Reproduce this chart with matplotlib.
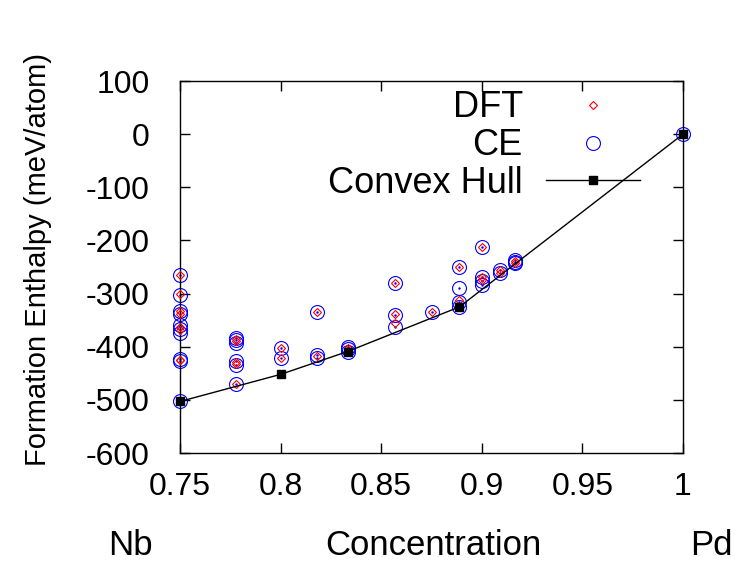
import matplotlib
matplotlib.use("Agg")
import matplotlib.pyplot as plt

plt.rcParams['font.family'] = ['Liberation Sans', 'DejaVu Sans']
plt.rcParams['axes.unicode_minus'] = False

# DFT formation enthalpies (meV/atom) vs Pd concentration
dft_x = [0.75, 0.75, 0.75, 0.75, 0.75, 0.75, 0.75, 0.75, 0.75,
         0.7778, 0.7778, 0.7778, 0.7778, 0.7778,
         0.8, 0.8, 0.8182, 0.8182, 0.8333, 0.8333,
         0.8571, 0.8571, 0.8571, 0.875,
         0.8889, 0.8889, 0.8889,
         0.9, 0.9, 0.9, 0.9091, 0.9091, 0.9167, 0.9167, 1.0]
dft_y = [-265, -301, -333, -338, -362, -368, -425, -425, -503,
         -385, -390, -428, -433, -470,
         -403, -421, -334, -418, -402, -407,
         -280, -339, -355, -334,
         -250, -313, -325,
         -213, -268, -275, -256, -261, -238, -242, 0]

# cluster expansion fits
ce_x = [0.75, 0.75, 0.75, 0.75, 0.75, 0.75, 0.75, 0.75, 0.75, 0.75,
        0.7778, 0.7778, 0.7778, 0.7778, 0.7778, 0.7778,
        0.8, 0.8, 0.8182, 0.8182, 0.8182,
        0.8333, 0.8333, 0.8333,
        0.8571, 0.8571, 0.8571, 0.875,
        0.8889, 0.8889, 0.8889, 0.8889,
        0.9, 0.9, 0.9, 0.9, 0.9091, 0.9091, 0.9167, 0.9167, 0.9167, 1.0]
ce_y = [-265, -302, -332, -339, -360, -367, -375, -424, -426, -503,
        -383, -388, -393, -427, -435, -470,
        -403, -422, -334, -416, -422,
        -400, -404, -409,
        -280, -341, -362, -334,
        -250, -290, -316, -325,
        -213, -268, -276, -284, -256, -262, -237, -240, -243, 0]

# convex hull
hull_x = [0.75, 0.8, 0.8333, 0.8889, 1.0]
hull_y = [-503, -452, -409, -325, 0]

x_ticks = [0.75, 0.8, 0.85, 0.9, 0.95, 1.0]
x_labels = ["0.75", "0.8", "0.85", "0.9", "0.95", "1"]
y_ticks = [-600, -500, -400, -300, -200, -100, 0, 100]

fig = plt.figure(figsize=(7.39, 5.65), dpi=100)
ax = fig.add_axes([0.2436, 0.1982, 0.6806, 0.6584])

ax.plot(dft_x, dft_y, linestyle="none", marker="D", markersize=4.5,
        markerfacecolor="none", markeredgecolor="red", markeredgewidth=0.8,
        label="DFT", zorder=3, clip_on=False)
ax.plot(ce_x, ce_y, linestyle="none", marker="o", markersize=10,
        markerfacecolor="none", markeredgecolor="blue", markeredgewidth=0.8,
        label="CE", zorder=2, clip_on=False)
ax.plot(ce_x, ce_y, linestyle="none", marker=".", markersize=1.5,
        color="blue", zorder=2, clip_on=False)
ax.plot(hull_x, hull_y, color="black", linewidth=1, marker="s",
        markersize=6, markerfacecolor="black", label="Convex Hull", zorder=4,
        clip_on=False)

ax.set_xlim(0.75, 1.0)
ax.set_ylim(-600, 100)
ax.set_xticks(x_ticks)
ax.set_xticklabels(x_labels)
ax.set_yticks(y_ticks)
ax.tick_params(direction="in", length=7, width=1, top=True, right=True,
               labelsize=23)
ax.tick_params(axis="x", pad=14)
ax.tick_params(axis="y", pad=22)
for s in ax.spines.values():
    s.set_linewidth(1)

ax.set_ylabel("Formation Enthalpy (meV/atom)", fontsize=21)
ax.yaxis.set_label_coords(-0.255, 0.52)

fig.text(0.177, 0.035, "Nb", fontsize=25, ha="center", va="center")
fig.text(0.586, 0.035, "Concentration", fontsize=25, ha="center", va="center")
fig.text(0.963, 0.035, "Pd", fontsize=25, ha="center", va="center")

leg = ax.legend(loc="upper right", bbox_to_anchor=(0.915, 0.975), frameon=False,
                markerfirst=False, fontsize=26, handlelength=2.6,
                handletextpad=0.65, labelspacing=0.08, borderaxespad=0,
                borderpad=0)

fig.savefig("out.png", dpi=100)
